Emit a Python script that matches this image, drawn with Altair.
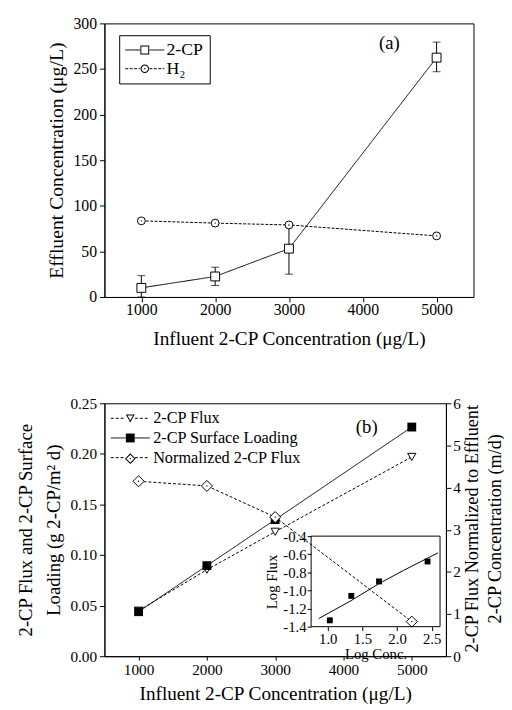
import altair as alt
import pandas as pd

FONT = "Liberation Serif"

# ---------------- Panel (a) data ----------------
influent_a = [1000, 2000, 3000, 5000]
cp_eff = [10.0, 22.5, 53.0, 262.5]
cp_err_lo = [0.0, 12.6, 25.0, 247.0]
cp_err_hi = [23.4, 32.7, 80.0, 279.5]
h2_eff = [83.5, 81.0, 79.0, 67.0]
series_a = ["2-CP", "H\u2082"]

# ---------------- Panel (b) data ----------------
influent_b = [1000, 2000, 3000, 5000]
flux = [0.045, 0.0855, 0.123, 0.197]
loading = [0.044, 0.0895, 0.135, 0.2265]
normalized = [4.15, 4.04, 3.30, 0.82]
series_b = ["2-CP Flux", "2-CP Surface Loading", "Normalized 2-CP Flux"]

# ---------------- Inset data ----------------
log_conc_pts = [1.03, 1.34, 1.74, 2.44]
log_flux_pts = [-1.33, -1.06, -0.90, -0.68]
fit_conc = [0.87, 1.32, 1.75, 2.09, 2.59]
fit_flux = [-1.31, -1.12, -0.92, -0.78, -0.585]

# marker-legend keys differ from line-legend keys (trailing space) so the
# two legends stay separate and are overlaid
mk_a = [s + " " for s in series_a]
mk_b = [s + " " for s in series_b]

# ---------------- symbol shapes ----------------
LINE_PATH = "M-4.4,0H-1.05M1.05,0H4.4"
DOT = "M-0.16,0A0.16,0.16 0 1,1 0.16,0A0.16,0.16 0 1,1 -0.16,0Z"
HOLLOW_SQUARE = "M-1,-1H1V1H-1Z M-0.78,-0.78V0.78H0.78V-0.78Z"
FILLED_SQUARE = "M-1,-1H1V1H-1Z"
HOLLOW_CIRCLE = ("M-0.95,0A0.95,0.95 0 1,1 0.95,0A0.95,0.95 0 1,1 -0.95,0Z "
                 "M-0.73,0A0.73,0.73 0 1,0 0.73,0A0.73,0.73 0 1,0 -0.73,0Z " + DOT)
HOLLOW_TRI = "M-1,-0.85L1,-0.85L0,0.95Z M-0.63,-0.63L0,0.5L0.63,-0.63Z"
HOLLOW_DIAMOND = ("M0,-1.2L1.2,0L0,1.2L-1.2,0Z M0,-0.89L-0.89,0L0,0.89L0.89,0Z " + DOT)
DIAMOND = "M0,-1.25L1.25,0L0,1.25L-1.25,0Z"
SOLID = [1, 0]
DASH = [3, 2]

df_a = pd.concat([
    pd.DataFrame({"x": influent_a, "y": cp_eff, "lo": cp_err_lo, "hi": cp_err_hi,
                  "sa": series_a[0]}),
    pd.DataFrame({"x": influent_a, "y": h2_eff, "lo": h2_eff, "hi": h2_eff,
                  "sa": series_a[1]}),
])
df_a_cp = df_a[df_a["sa"] == series_a[0]]
df_a_h2 = df_a[df_a["sa"] == series_a[1]]
ghost_a = pd.DataFrame({"x": pd.Series([], dtype=float), "y": pd.Series([], dtype=float),
                        "ma": pd.Series([], dtype=str)})

xa = alt.X("x:Q", scale=alt.Scale(domain=[500, 5500], nice=False),
           axis=alt.Axis(values=[1000, 2000, 3000, 4000, 5000], format="d",
                         title="Influent 2-CP Concentration (\u03bcg/L)", labelPadding=0,
                         labelFontSize=16, titleFontSize=19.5, titlePadding=12))
ya = alt.Y("y:Q", scale=alt.Scale(domain=[0, 300], nice=False),
           axis=alt.Axis(values=[0, 50, 100, 150, 200, 250, 300], format="d",
                         title="Effluent Concentration (\u03bcg/L)",
                         labelFontSize=16, titleFontSize=20, titlePadding=7))

leg_common_a = dict(orient="none", legendX=15, legendY=12, title=None,
                    labelFont=FONT, labelFontSize=18, labelColor="black",
                    padding=6, rowPadding=1, symbolOffset=11, labelOffset=13,
                    symbolSize=81)

lines_a = alt.Chart(df_a).mark_line(color="black", strokeWidth=1).encode(
    x=xa, y=ya,
    strokeDash=alt.StrokeDash("sa:N", scale=alt.Scale(domain=series_a, range=[SOLID, [3, 1.5]]),
                              legend=alt.Legend(symbolType=LINE_PATH, symbolStrokeColor="black",
                                                symbolStrokeWidth=1, symbolFillColor="transparent",
                                                strokeColor="black",
                                                **leg_common_a)),
)
ghost_pts_a = alt.Chart(ghost_a).mark_point(filled=True, color="black", size=81, opacity=1).encode(
    x="x:Q", y="y:Q",
    shape=alt.Shape("ma:N", scale=alt.Scale(domain=mk_a, range=[HOLLOW_SQUARE, HOLLOW_CIRCLE]),
                    legend=alt.Legend(labelOpacity=0, **leg_common_a)))
err_rule = alt.Chart(df_a_cp).mark_rule(color="black", strokeWidth=1).encode(
    x="x:Q", y="lo:Q", y2="hi:Q")
cap_hi = alt.Chart(df_a_cp).mark_tick(color="black", orient="horizontal", size=8, thickness=1).encode(
    x="x:Q", y="hi:Q")
cap_lo = alt.Chart(df_a_cp).mark_tick(color="black", orient="horizontal", size=8, thickness=1).encode(
    x="x:Q", y="lo:Q")
sq_a = alt.Chart(df_a_cp).mark_point(shape="square", filled=True, fill="white", stroke="black",
                                     strokeWidth=1, size=81, opacity=1).encode(x="x:Q", y="y:Q")
ci_a = alt.Chart(df_a_h2).mark_point(shape="circle", filled=True, fill="white", stroke="black",
                                     strokeWidth=1, size=64, opacity=1).encode(x="x:Q", y="y:Q")
dot_a = alt.Chart(df_a_h2).mark_point(shape="circle", filled=True, color="black", size=2,
                                      opacity=1).encode(x="x:Q", y="y:Q")
label_a = alt.Chart(pd.DataFrame({"t": ["(a)"]})).mark_text(
    font=FONT, fontSize=19, color="black").encode(
    x=alt.datum(4360), y=alt.datum(278), text="t:N")

panel_a = alt.layer(lines_a, err_rule, cap_hi, cap_lo, sq_a, ci_a, dot_a, label_a,
                    ghost_pts_a).properties(width=375, height=278)

# ---------------- Panel (b) ----------------
df_fl = pd.DataFrame({"x": influent_b, "y": flux, "sb": series_b[0]})
df_lo = pd.DataFrame({"x": influent_b, "y": loading, "sb": series_b[1]})
df_b = pd.concat([df_fl, df_lo])
df_n = pd.DataFrame({"x": influent_b, "y": normalized, "sb": series_b[2]})
ghost_b = pd.DataFrame({"x": pd.Series([], dtype=float), "y": pd.Series([], dtype=float),
                        "mb": pd.Series([], dtype=str)})

xscale_b = alt.Scale(domain=[500, 5500], nice=False)
xb = alt.X("x:Q", scale=xscale_b,
           axis=alt.Axis(values=[1000, 2000, 3000, 4000, 5000], format="d", orient="bottom",
                         title="Influent 2-CP Concentration (\u03bcg/L)", labelPadding=3,
                         tickSize=4, labelFontSize=15.5, titleFontSize=19.5, titlePadding=6))
yb = alt.Y("y:Q", scale=alt.Scale(domain=[0, 0.25], nice=False),
           axis=alt.Axis(values=[0, 0.05, 0.10, 0.15, 0.20, 0.25], format=".2f", orient="left",
                         title=["2-CP Flux and 2-CP Surface", "Loading (g 2-CP/m\u00b2 d)"],
                         titleLineHeight=28, labelFontSize=15.5, titleFontSize=19, titlePadding=7))

sd_scale_b = alt.Scale(domain=series_b, range=[DASH, SOLID, DASH])

leg_common_b = dict(orient="none", legendX=0, legendY=5, title=None,
                    labelFont=FONT, labelFontSize=16.5, labelColor="black",
                    padding=2, rowPadding=3, symbolOffset=16, labelOffset=15,
                    symbolSize=81)
leg_line_b = alt.Legend(symbolType=LINE_PATH, symbolStrokeColor="black", symbolStrokeWidth=1,
                        symbolFillColor="transparent", **leg_common_b)

lines_b = alt.Chart(df_b).mark_line(color="black", strokeWidth=1).encode(
    x=xb, y=yb,
    strokeDash=alt.StrokeDash("sb:N", scale=sd_scale_b, legend=leg_line_b))
tri_b = alt.Chart(df_fl).mark_point(shape="triangle-down", filled=True, fill="white",
                                    stroke="black", strokeWidth=1, size=70, opacity=1).encode(
    x="x:Q", y="y:Q")
sq_b = alt.Chart(df_lo).mark_point(shape="square", filled=True, color="black", size=81,
                                   opacity=1).encode(x="x:Q", y="y:Q")
ghost_pts_b = alt.Chart(ghost_b).mark_point(filled=True, color="black", size=81, opacity=1).encode(
    x="x:Q", y="y:Q",
    shape=alt.Shape("mb:N", scale=alt.Scale(domain=mk_b,
                                            range=[HOLLOW_TRI, FILLED_SQUARE, HOLLOW_DIAMOND]),
                    legend=alt.Legend(labelOpacity=0, **leg_common_b)))
label_b = alt.Chart(pd.DataFrame({"t": ["(b)"]})).mark_text(
    font=FONT, fontSize=19, color="black").encode(
    x=alt.datum(4340), y=alt.datum(0.2266), text="t:N")
main_b = alt.layer(lines_b, tri_b, sq_b, label_b, ghost_pts_b)

xn = alt.X("x:Q", scale=xscale_b, axis=None)
yn = alt.Y("y:Q", scale=alt.Scale(domain=[0, 6], nice=False),
           axis=alt.Axis(values=[0, 1, 2, 3, 4, 5, 6], format="d", orient="right",
                         title=["2-CP Flux Normalized to Effluent", "2-CP Concentration (m/d)"],
                         titleAngle=270, titleBaseline="top", titleAlign="center",
                         titleLineHeight=23, titleX=17, titleY=127,
                         labelFontSize=15.5, labelPadding=2, titleFontSize=18.5))
lines_n = alt.Chart(df_n).mark_line(color="black", strokeWidth=1).encode(
    x=xn, y=yn,
    strokeDash=alt.StrokeDash("sb:N", scale=sd_scale_b, legend=leg_line_b))
dia_n = alt.Chart(df_n).mark_point(shape=DIAMOND, filled=True, fill="white", stroke="black",
                                   strokeWidth=1, size=81, opacity=1).encode(x="x:Q", y="y:Q")
dot_n = alt.Chart(df_n).mark_point(shape="circle", filled=True, color="black", size=2,
                                   opacity=1).encode(x="x:Q", y="y:Q")
norm_b = alt.layer(lines_n, dia_n, dot_n)

# inset
INSET_X = [0.76, 2.62]
INSET_Y = [-1.4, -0.4]
df_ip = pd.DataFrame({"lc": log_conc_pts, "lf": log_flux_pts})
df_if = pd.DataFrame({"lc": fit_conc, "lf": fit_flux})
df_frame = pd.DataFrame({"x0": [INSET_X[0]], "x1": [INSET_X[1]], "y0": [INSET_Y[0]], "y1": [INSET_Y[1]]})
minus_fix = "replace(format(datum.value, '.1f'), '\u2212', '-')"
xi = alt.X("lc:Q", scale=alt.Scale(domain=INSET_X, range=[210, 341], nice=False, zero=False),
           axis=alt.Axis(values=[1.0, 1.5, 2.0, 2.5], format=".1f", orient="bottom", offset=-30,
                         title="Log Conc.", labelFontSize=15, titleFontSize=15,
                         tickSize=4, labelPadding=1, titlePadding=0, domain=False))
yi = alt.Y("lf:Q", scale=alt.Scale(domain=INSET_Y, range=[227, 135], nice=False, zero=False),
           axis=alt.Axis(values=[-1.4, -1.2, -1.0, -0.8, -0.6, -0.4], orient="left", offset=-210,
                         labelExpr=minus_fix, title="Log Flux", labelFontSize=15,
                         titleFontSize=15, tickSize=4, labelPadding=1, titlePadding=3,
                         domain=False))
inset_frame = alt.Chart(df_frame).mark_rect(fill=None, stroke="black", strokeWidth=1).encode(
    x=alt.X("x0:Q", scale=alt.Scale(domain=INSET_X, range=[210, 341], nice=False, zero=False), axis=None),
    x2="x1:Q",
    y=alt.Y("y0:Q", scale=alt.Scale(domain=INSET_Y, range=[227, 135], nice=False, zero=False), axis=None),
    y2="y1:Q")
inset_line = alt.Chart(df_if).mark_line(color="black", strokeWidth=1).encode(x=xi, y=yi)
inset_pts = alt.Chart(df_ip).mark_square(color="black", size=36, opacity=1).encode(
    x="lc:Q", y="lf:Q")
inset = alt.layer(inset_line, inset_pts)

panel_b = alt.layer(main_b, norm_b, inset, inset_frame).resolve_scale(
    x="independent", y="independent").properties(width=347, height=257)

chart = alt.vconcat(panel_a, panel_b, spacing=48).resolve_scale(
    shape="independent", strokeDash="independent"
).resolve_legend(shape="independent", strokeDash="independent").configure(
    font=FONT, padding={"left": 8, "top": 1, "right": 0, "bottom": 0}
).configure_view(stroke="black", strokeWidth=1).configure_axis(
    labelFont=FONT, titleFont=FONT, labelColor="black", titleColor="black",
    domainColor="black", tickColor="black", grid=False, tickSize=5, labelPadding=3,
    titleFontWeight="normal"
).configure_legend(labelFont=FONT)

chart.save("out.html", embed_options={"renderer": "svg", "actions": False})
